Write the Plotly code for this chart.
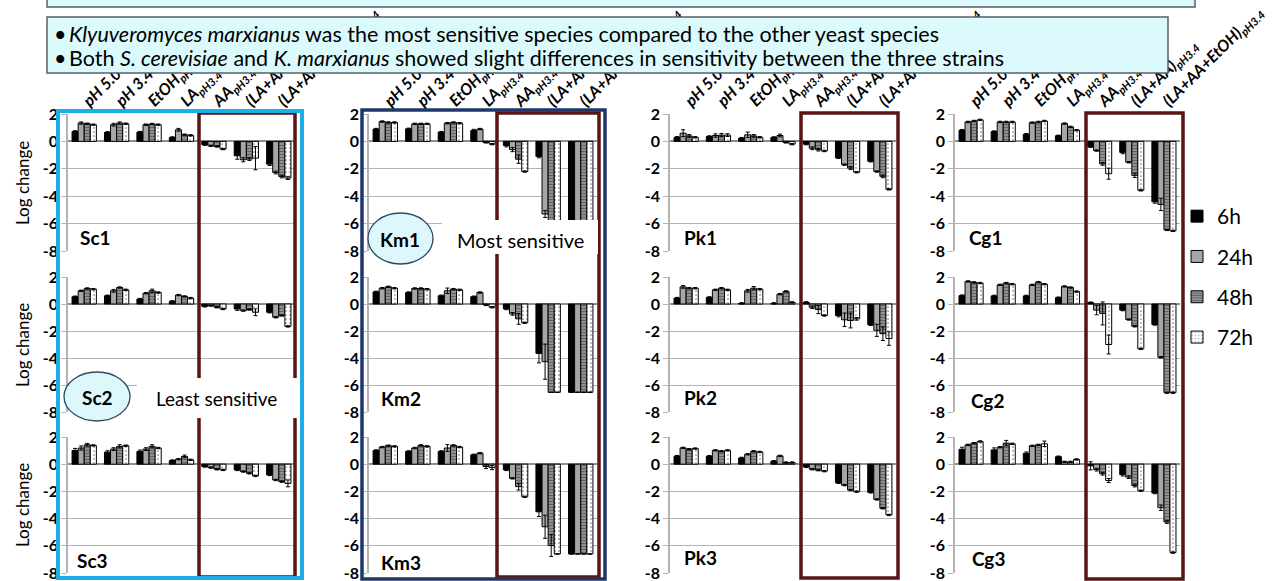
import plotly.graph_objects as go

W, H = 1280, 581

categories = ["pH 5.0", "pH 3.4", "EtOH pH3.4", "LA pH3.4", "AA pH3.4",
              "(LA+AA) pH3.4", "(LA+AA+EtOH) pH3.4"]
tick_text = ["pH 5.0", "pH 3.4", "EtOH<sub>pH3.4</sub>", "LA<sub>pH3.4</sub>",
             "AA<sub>pH3.4</sub>", "(LA+AA)<sub>pH3.4</sub>", "(LA+AA+EtOH)<sub>pH3.4</sub>"]
series_names = ["6h", "24h", "48h", "72h"]
y_tick_vals = [2, 0, -2, -4, -6, -8]
y_tick_text = ["2", "0", "-2", "-4", "-6", "-8"]

# values: [6h, 24h, 48h, 72h] x 7 categories
sc1 = [[0.73, 0.66, 0.68, 0.29, -0.24, -1.05, -1.66],
       [1.34, 1.22, 1.22, 0.85, -0.32, -1.34, -2.27],
       [1.29, 1.34, 1.27, 0.49, -0.37, -1.29, -2.56],
       [1.22, 1.29, 1.22, 0.44, -0.56, -1.22, -2.68]]
sc1_err = [[0.05, 0.05, 0.05, 0.05, 0.05, 0.25, 0.1],
           [0.08, 0.1, 0.05, 0.1, 0.05, 0.15, 0.1],
           [0.05, 0.08, 0.05, 0.05, 0.05, 0.1, 0.1],
           [0.05, 0.05, 0.05, 0.05, 0.05, 0.85, 0.1]]

km1 = [[0.9, 0.92, 0.68, 0.8, -0.3, -1.1, -6.6],
       [1.45, 1.28, 1.33, 0.9, -0.6, -5.3, -6.6],
       [1.38, 1.28, 1.38, -0.07, -1.3, -6.6, -6.6],
       [1.38, 1.28, 1.33, -0.2, -2.2, -6.6, -6.6]]
km1_err = [[0.05, 0.05, 0.05, 0.08, 0.1, 0.1, 0.0],
           [0.05, 0.05, 0.05, 0.05, 0.15, 0.25, 0.0],
           [0.05, 0.05, 0.05, 0.05, 0.3, 0.0, 0.0],
           [0.05, 0.05, 0.05, 0.05, 0.05, 0.0, 0.0]]

pk1 = [[0.3, 0.36, 0.24, 0.29, -0.2, -1.2, -1.45],
       [0.6, 0.43, 0.48, 0.43, -0.5, -1.7, -2.2],
       [0.4, 0.46, 0.4, -0.07, -0.6, -1.95, -2.55],
       [0.3, 0.46, 0.3, -0.2, -0.7, -2.25, -3.5]]
pk1_err = [[0.05, 0.05, 0.05, 0.05, 0.05, 0.05, 0.05],
           [0.25, 0.12, 0.2, 0.1, 0.1, 0.05, 0.05],
           [0.1, 0.12, 0.1, 0.05, 0.1, 0.1, 0.1],
           [0.05, 0.1, 0.05, 0.05, 0.05, 0.05, 0.05]]

cg1 = [[0.82, 0.72, 0.53, 0.41, -0.39, -0.8, -4.41],
       [1.42, 1.42, 1.37, 1.3, -0.67, -1.52, -4.6],
       [1.49, 1.42, 1.42, 1.06, -1.64, -2.48, -6.46],
       [1.57, 1.42, 1.49, 0.82, -2.36, -3.57, -6.53]]
cg1_err = [[0.05, 0.05, 0.05, 0.05, 0.05, 0.1, 0.1],
           [0.05, 0.05, 0.05, 0.05, 0.05, 0.05, 0.45],
           [0.05, 0.05, 0.05, 0.05, 0.1, 0.15, 0.05],
           [0.05, 0.05, 0.05, 0.05, 0.4, 0.05, 0.05]]

sc2 = [[0.54, 0.61, 0.37, 0.2, -0.17, -0.37, -0.61],
       [0.98, 0.98, 0.8, 0.66, -0.12, -0.49, -0.98],
       [1.15, 1.22, 0.98, 0.56, -0.24, -0.41, -0.85],
       [1.1, 1.05, 0.85, 0.44, -0.37, -0.61, -1.66]]
sc2_err = [[0.05, 0.05, 0.05, 0.05, 0.05, 0.1, 0.05],
           [0.05, 0.1, 0.05, 0.05, 0.05, 0.05, 0.05],
           [0.05, 0.05, 0.12, 0.05, 0.05, 0.05, 0.05],
           [0.05, 0.05, 0.05, 0.05, 0.05, 0.25, 0.05]]

km2 = [[0.9, 0.85, 0.61, 0.54, -0.37, -3.66, -6.54],
       [1.17, 1.15, 0.98, 0.85, -0.73, -4.27, -6.54],
       [1.27, 1.15, 1.1, -0.07, -1.1, -6.54, -6.54],
       [1.17, 1.1, 1.05, -0.24, -1.39, -6.54, -6.54]]
km2_err = [[0.05, 0.05, 0.05, 0.05, 0.05, 0.7, 0.0],
           [0.05, 0.05, 0.2, 0.05, 0.1, 1.3, 0.0],
           [0.05, 0.05, 0.05, 0.05, 0.4, 0.0, 0.0],
           [0.05, 0.05, 0.05, 0.05, 0.05, 0.0, 0.0]]

pk2 = [[0.44, 0.49, 0.05, 0.05, 0.12, -0.85, -1.54],
       [1.27, 1.05, 0.98, 0.73, -0.24, -1.17, -1.95],
       [1.17, 1.17, 1.17, 0.93, -0.41, -1.22, -2.2],
       [1.17, 1.05, 1.1, 0.12, -0.85, -1.1, -2.56]]
pk2_err = [[0.05, 0.05, 0.05, 0.05, 0.05, 0.1, 0.05],
           [0.1, 0.05, 0.1, 0.05, 0.1, 0.5, 0.45],
           [0.05, 0.05, 0.12, 0.05, 0.3, 0.55, 0.5],
           [0.05, 0.05, 0.05, 0.05, 0.05, 0.1, 0.5]]

cg2 = [[0.62, 0.6, 0.6, 0.47, 0.1, -0.45, -1.52],
       [1.67, 1.42, 1.42, 1.3, -0.45, -1.15, -3.95],
       [1.6, 1.55, 1.62, 1.22, -0.7, -1.65, -6.57],
       [1.55, 1.47, 1.47, 0.92, -3.0, -3.32, -6.57]]
cg2_err = [[0.05, 0.05, 0.05, 0.05, 0.05, 0.05, 0.05],
           [0.05, 0.05, 0.05, 0.05, 0.35, 0.05, 0.05],
           [0.05, 0.05, 0.05, 0.05, 0.85, 0.05, 0.05],
           [0.05, 0.05, 0.05, 0.05, 0.7, 0.05, 0.05]]

sc3 = [[1.01, 0.89, 0.94, 0.27, -0.17, -0.42, -0.79],
       [1.19, 1.11, 1.11, 0.37, -0.25, -0.54, -1.16],
       [1.43, 1.31, 1.31, 0.57, -0.37, -0.67, -1.28],
       [1.38, 1.36, 1.19, 0.32, -0.42, -0.86, -1.41]]
sc3_err = [[0.15, 0.1, 0.1, 0.05, 0.05, 0.05, 0.05],
           [0.15, 0.1, 0.1, 0.05, 0.05, 0.05, 0.05],
           [0.1, 0.12, 0.12, 0.1, 0.05, 0.05, 0.05],
           [0.05, 0.05, 0.05, 0.05, 0.05, 0.05, 0.25]]

km3 = [[1.01, 0.94, 0.94, 0.69, -0.42, -3.5, -6.6],
       [1.26, 1.19, 1.19, 0.81, -1.04, -4.6, -6.6],
       [1.36, 1.38, 1.38, -0.17, -1.65, -5.98, -6.6],
       [1.31, 1.31, 1.26, -0.25, -2.4, -6.6, -6.6]]
km3_err = [[0.05, 0.05, 0.05, 0.05, 0.05, 0.35, 0.0],
           [0.05, 0.05, 0.25, 0.05, 0.05, 0.85, 0.0],
           [0.05, 0.05, 0.05, 0.15, 0.25, 0.8, 0.0],
           [0.05, 0.05, 0.05, 0.15, 0.05, 0.0, 0.0]]

pk3 = [[0.59, 0.59, 0.46, 0.22, -0.2, -1.37, -2.07],
       [1.2, 1.02, 0.73, 0.61, -0.37, -1.54, -2.59],
       [1.1, 0.95, 0.95, 0.12, -0.44, -1.9, -3.24],
       [1.15, 1.02, 0.9, 0.12, -0.51, -2.02, -3.73]]
pk3_err = [[0.05, 0.05, 0.05, 0.05, 0.05, 0.05, 0.05],
           [0.05, 0.05, 0.05, 0.05, 0.05, 0.05, 0.05],
           [0.05, 0.05, 0.05, 0.05, 0.05, 0.05, 0.05],
           [0.05, 0.05, 0.05, 0.05, 0.05, 0.05, 0.05]]

cg3 = [[1.1, 1.05, 0.8, 0.55, -0.12, -0.77, -2.12],
       [1.42, 1.25, 1.35, 0.17, -0.4, -0.95, -3.2],
       [1.55, 1.55, 1.42, 0.17, -0.7, -1.57, -4.25],
       [1.67, 1.5, 1.5, 0.35, -1.2, -1.95, -6.5]]
cg3_err = [[0.15, 0.15, 0.1, 0.05, 0.3, 0.1, 0.05],
           [0.05, 0.05, 0.05, 0.05, 0.1, 0.1, 0.2],
           [0.05, 0.2, 0.05, 0.05, 0.1, 0.1, 0.1],
           [0.05, 0.05, 0.2, 0.05, 0.15, 0.05, 0.05]]

panels = [("Sc1", sc1, sc1_err), ("Km1", km1, km1_err), ("Pk1", pk1, pk1_err), ("Cg1", cg1, cg1_err),
          ("Sc2", sc2, sc2_err), ("Km2", km2, km2_err), ("Pk2", pk2, pk2_err), ("Cg2", cg2, cg2_err),
          ("Sc3", sc3, sc3_err), ("Km3", km3, km3_err), ("Pk3", pk3, pk3_err), ("Cg3", cg3, cg3_err)]

FONT = "Lato"
col_px = [(68, 295), (369, 597), (670, 896), (955, 1180)]
row_px = [(114, 251), (277, 412), (437, 573)]

styles = [
    dict(color="black"),
    dict(color="#a6a6a6"),
    dict(color="#8f8f8f", pattern=dict(shape="-", fgcolor="#3a3a3a", size=3, solidity=0.35)),
    dict(color="white", pattern=dict(shape=".", fgcolor="black", size=4, solidity=0.14)),
]

fig = go.Figure()
layout = {}
for i, (name, vals, errs) in enumerate(panels):
    r, c = divmod(i, 4)
    xs = "" if i == 0 else str(i + 1)
    for s in range(4):
        mk = dict(color=styles[s]["color"], line=dict(color="black", width=1))
        if "pattern" in styles[s]:
            mk["pattern"] = styles[s]["pattern"]
        fig.add_trace(go.Bar(
            x=categories, y=vals[s], name=series_names[s],
            marker=mk,
            error_y=dict(type="data", array=errs[s], color="black", thickness=1, width=2),
            xaxis="x" + xs, yaxis="y" + xs,
            showlegend=(i == 0), legendgroup=series_names[s],
        ))
    x0, x1 = col_px[c]
    y0, y1 = row_px[r]
    layout["xaxis" + xs] = dict(
        domain=[x0 / W, x1 / W], anchor="y" + xs, side="top", type="category",
        categoryorder="array", categoryarray=categories,
        tickvals=categories, ticktext=tick_text, tickangle=-45,
        showticklabels=(r == 0), showgrid=False, ticks="", showline=False,
        zeroline=False, range=[-0.5, 6.5], fixedrange=True, automargin=False,
        ticklabeloverflow="allow",
        tickfont=dict(family=FONT, size=16, weight="bold", style="italic", color="black"),
    )
    layout["yaxis" + xs] = dict(
        domain=[1 - y1 / H, 1 - y0 / H], anchor="x" + xs, range=[-8, 2],
        tickmode="array", tickvals=y_tick_vals, ticktext=y_tick_text,
        showgrid=True, gridcolor="#b4b4b4", gridwidth=1.3,
        zeroline=True, zerolinecolor="#8f8f8f", zerolinewidth=1.5,
        showline=True, linecolor="#b4b4b4", linewidth=1.5, automargin=False,
        ticklabeloverflow="allow",
        ticks="outside", ticklen=5, tickcolor="#b4b4b4", fixedrange=True,
        tickfont=dict(family=FONT, size=16, weight="bold", color="black"),
    )

fig.update_layout(**layout)


def P(x, y):
    return x / W, 1 - y / H


shapes = []


def rect(x0, y0, x1, y1, line_color=None, width=0, fill=None):
    a, b = P(x0, y0)
    c, d = P(x1, y1)
    shapes.append(dict(type="rect", xref="paper", yref="paper", x0=a, y0=d, x1=c, y1=b,
                       line=dict(color=line_color or "rgba(0,0,0,0)", width=width),
                       fillcolor=fill or "rgba(0,0,0,0)", layer="above"))


def ellipse(x0, y0, x1, y1):
    a, b = P(x0, y0)
    c, d = P(x1, y1)
    shapes.append(dict(type="circle", xref="paper", yref="paper", x0=a, y0=d, x1=c, y1=b,
                       line=dict(color="#2c4866", width=1.3), fillcolor="#dcf8fb", layer="above"))


# highlight boxes
RED = "#5b1414"
for bx in [(199, 113, 295, 577), (497, 113, 599, 577), (801, 113, 898, 578), (1086, 113, 1183, 579)]:
    rect(*bx, line_color=RED, width=3.5)
rect(58, 111, 302, 578, line_color="#1aafe6", width=4)
rect(362, 110, 605, 579, line_color="#1f3768", width=3.5)
# white label panels
rect(442, 220, 598, 254, fill="white")
rect(137, 378, 297, 418, fill="white")
ellipse(368, 213, 433, 264)
ellipse(64, 372, 130, 421)
# text boxes at top
rect(47, -4, 1195, 7, line_color="#56606a", width=1.5, fill="#dcfafc")
rect(47, 17, 1168, 73, line_color="#56606a", width=1.5, fill="#dcfafc")

annotations = []


def text(x, y, t, size, bold=False, anchor="left", angle=0, italic=False):
    a, b = P(x, y)
    annotations.append(dict(xref="paper", yref="paper", x=a, y=b, text=t, showarrow=False,
                            xanchor=anchor, yanchor="middle", textangle=angle,
                            font=dict(family=FONT, size=size, color="black",
                                      weight="bold" if bold else "normal",
                                      style="italic" if italic else "normal")))


text(52, 34, "•", 21.5)
text(67, 34, "<i>Klyuveromyces marxianus</i> was the most sensitive species compared to the other yeast species", 21.5)
text(52, 58, "•", 21.5)
text(67, 58, "Both <i>S. cerevisiae</i> and <i>K. marxianus</i> showed slight differences in sensitivity between the three strains", 21.5)

for yc in [183, 345, 505]:
    text(22, yc, "Log change", 17, anchor="center", angle=-90)

label_pos = {"Sc1": (78, 237, "left"), "Km1": (400, 239, "center"), "Pk1": (682, 237, "left"),
             "Cg1": (967, 237, "left"), "Sc2": (97, 397, "center"), "Km2": (379, 398, "left"),
             "Pk2": (682, 397, "left"), "Cg2": (969, 400, "left"), "Sc3": (75, 560, "left"),
             "Km3": (379, 562, "left"), "Pk3": (682, 557, "left"), "Cg3": (970, 558, "left")}
for name, _, _ in panels:
    x, y, anc = label_pos[name]
    text(x, y, name, 19, bold=True, anchor=anc)

text(520, 240, "Most sensitive", 20, anchor="center")
text(216, 398, "Least sensitive", 19, anchor="center")

fig.update_layout(
    width=W, height=H, autosize=False,
    margin=dict(l=0, r=0, t=0, b=0, autoexpand=False),
    paper_bgcolor="white", plot_bgcolor="white",
    barmode="group", bargap=0.25, bargroupgap=0,
    shapes=shapes, annotations=annotations,
    legend=dict(x=1177 / W, y=1 - 196 / H, xanchor="left", yanchor="top",
                font=dict(family=FONT, size=21, color="black"),
                bgcolor="rgba(0,0,0,0)", tracegroupgap=10, itemwidth=30,
                traceorder="grouped"),
    font=dict(family=FONT),
)

fig.write_html("out.html", config={"displayModeBar": False},
               post_script="document.body.style.margin='0';")
